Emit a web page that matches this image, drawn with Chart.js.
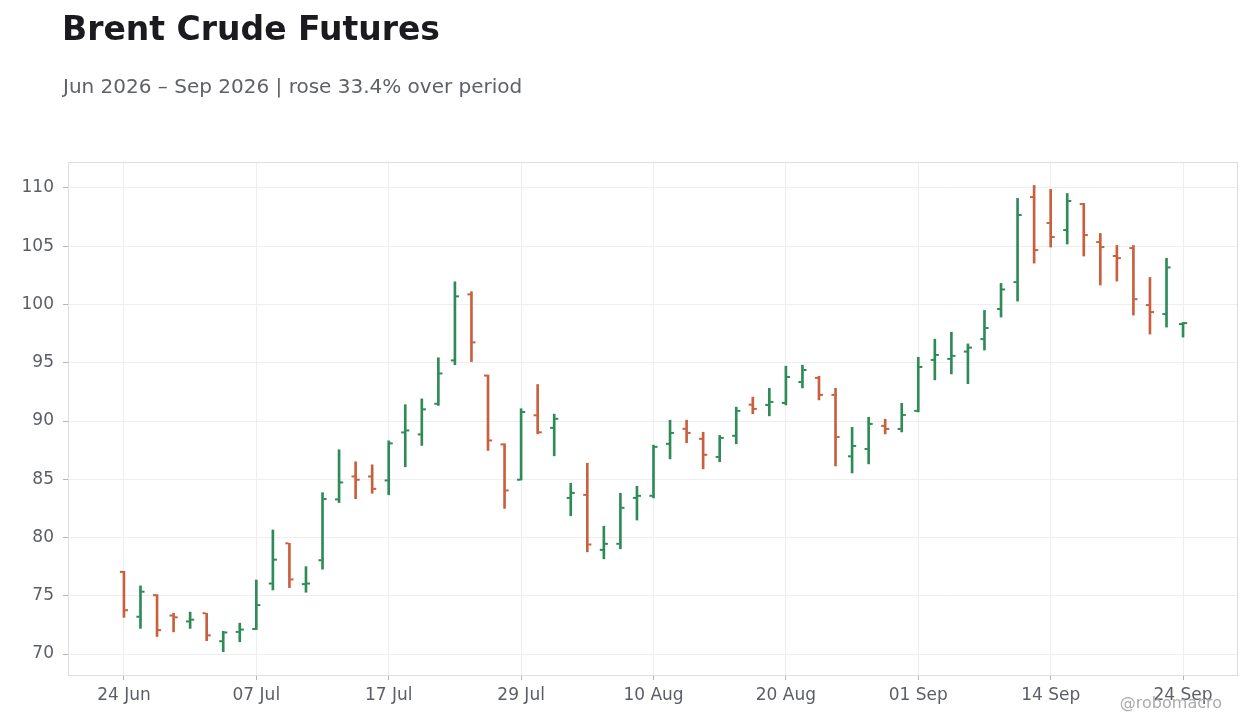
<!DOCTYPE html>
<html>
<head>
<meta charset="utf-8">
<script src="https://cdn.jsdelivr.net/npm/chart.js@4.4.1/dist/chart.umd.min.js"></script>
<style>
  body { margin: 0; background: #ffffff; font-family: "DejaVu Sans", sans-serif; }
  #wrap { position: relative; width: 1260px; height: 728px; overflow: hidden; }
  #title { position: absolute; left: 62px; top: 12px; font-size: 33px; line-height: 33px; font-weight: bold; color: #1b1b1f; white-space: nowrap; }
  #subtitle { position: absolute; left: 63px; top: 76px; font-size: 20px; line-height: 20px; color: #5f6168; white-space: nowrap; }
  #credit { position: absolute; right: 38px; top: 695px; font-size: 16px; line-height: 16px; color: #ababae; white-space: nowrap; }
  canvas { position: absolute; left: 0; top: 0; }
</style>
</head>
<body>
<div id="wrap">
  <canvas id="ohlc" width="1260" height="728"></canvas>
  <div id="title">Brent Crude Futures</div>
  <div id="subtitle">Jun 2026 – Sep 2026 | rose 33.4% over period</div>
  <div id="credit">@robomacro</div>
</div>
<script>
const dates = [
  '24 Jun', '25 Jun', '26 Jun', '29 Jun', '30 Jun',
  '01 Jul', '02 Jul', '06 Jul', '07 Jul', '08 Jul', '09 Jul', '10 Jul',
  '13 Jul', '14 Jul', '15 Jul', '16 Jul', '17 Jul', '20 Jul', '21 Jul', '22 Jul', '23 Jul', '24 Jul',
  '27 Jul', '28 Jul', '29 Jul', '30 Jul', '31 Jul',
  '03 Aug', '04 Aug', '05 Aug', '06 Aug', '07 Aug', '10 Aug', '11 Aug', '12 Aug', '13 Aug', '14 Aug',
  '17 Aug', '18 Aug', '19 Aug', '20 Aug', '21 Aug', '24 Aug', '25 Aug', '26 Aug', '27 Aug', '28 Aug', '31 Aug',
  '01 Sep', '02 Sep', '03 Sep', '04 Sep', '08 Sep', '09 Sep', '10 Sep', '11 Sep',
  '14 Sep', '15 Sep', '16 Sep', '17 Sep', '18 Sep', '21 Sep', '22 Sep', '23 Sep', '24 Sep'
];
const opens = [
  77.05, 73.2, 75.05, 73.3, 72.8, 73.5, 71.1, 71.9, 72.15, 76.05,
  79.5, 76.0, 78.05, 83.27, 85.24, 85.24, 84.9, 89.02, 88.85, 91.48,
  95.2, 100.87, 93.9, 87.99, 84.96, 90.49, 89.41, 83.4, 83.66, 78.94,
  79.46, 83.4, 83.58, 88.04, 89.33, 88.47, 86.92, 88.73, 91.4, 91.38,
  91.55, 93.35, 93.7, 92.24, 86.97, 87.6, 89.58, 89.32, 90.87, 95.24,
  95.33, 95.96, 97.03, 99.61, 101.92, 109.22, 106.99, 106.39, 108.62, 105.36,
  104.16, 104.84, 99.95, 99.18, 98.32
];
const highs = [
  77.1, 75.85, 75.1, 73.5, 73.6, 73.5, 71.95, 72.65, 76.35, 80.65,
  79.5, 77.5, 83.85, 87.53, 86.5, 86.24, 88.3, 91.4, 91.9, 95.43,
  101.95, 101.1, 93.95, 88.05, 91.05, 93.13, 90.59, 84.66, 86.38, 80.97,
  83.8, 84.4, 87.93, 90.07, 90.07, 89.04, 88.76, 91.19, 92.05, 92.81,
  94.7, 94.79, 93.84, 92.81, 89.46, 90.32, 90.15, 91.52, 95.47, 97.02,
  97.62, 96.62, 99.49, 101.81, 109.11, 110.22, 109.88, 109.53, 108.68, 106.1,
  105.07, 105.07, 102.32, 103.96, 98.46
];
const lows = [
  73.15, 72.2, 71.5, 71.9, 72.2, 71.15, 70.2, 71.05, 72.1, 75.5,
  75.7, 75.3, 77.28, 83.0, 83.33, 83.8, 83.67, 86.07, 87.9, 91.34,
  94.83, 95.1, 87.47, 82.5, 84.93, 88.9, 87.01, 81.86, 78.77, 78.17,
  79.03, 81.5, 83.4, 86.75, 88.13, 85.89, 86.5, 88.04, 90.62, 90.44,
  91.38, 92.84, 91.81, 86.14, 85.54, 86.32, 88.89, 89.06, 90.78, 93.53,
  94.04, 93.2, 96.09, 98.92, 100.29, 103.55, 104.93, 105.19, 104.16, 101.67,
  102.01, 99.09, 97.46, 98.06, 97.2
];
const closes = [
  73.76, 75.35, 72.05, 73.15, 72.95, 71.6, 71.85, 72.1, 74.2, 78.1,
  76.4, 76.05, 83.3, 84.73, 84.96, 84.18, 88.08, 89.19, 91.0, 94.08,
  100.7, 96.75, 88.33, 84.04, 90.77, 89.03, 90.19, 83.83, 79.4, 79.46,
  82.55, 83.58, 87.78, 88.98, 88.98, 87.1, 88.55, 90.87, 91.04, 91.64,
  93.78, 94.38, 92.24, 88.63, 87.86, 89.75, 89.32, 90.52, 94.64, 95.67,
  95.59, 96.3, 97.98, 101.29, 107.68, 104.67, 105.79, 108.88, 105.96, 104.93,
  103.98, 100.46, 99.35, 103.18, 98.4
];
const yTicks = [70, 75, 80, 85, 90, 95, 100, 105, 110];
const xTicks = [0, 8, 16, 24, 32, 40, 48, 56, 64];

const UP = '#2e8b57';
const DOWN = '#c9603d';
const TICK_SHIFT = 0.15;

const colors = closes.map((c, i) => c >= opens[i] ? UP : DOWN);

const frame = {
  id: 'frame',
  beforeDatasetsDraw(chart) {
    const a = chart.chartArea;
    const c = chart.ctx;
    c.save();
    c.strokeStyle = '#dddddd';
    c.lineWidth = 1;
    c.strokeRect(a.left + 0.5, a.top + 0.5, a.right - a.left - 1, a.bottom - a.top);
    c.restore();
  }
};

new Chart(document.getElementById('ohlc'), {
  type: 'bar',
  data: {
    datasets: [
      {
        type: 'bar',
        data: dates.map((d, i) => ({ x: i, y: [lows[i], highs[i]] })),
        backgroundColor: colors,
        barThickness: 2,
        borderWidth: 0,
        order: 2
      },
      {
        type: 'scatter',
        data: opens.map((v, i) => ({ x: i - TICK_SHIFT, y: v })),
        pointStyle: 'line',
        pointRadius: 1.6,
        pointBorderWidth: 2,
        pointBorderColor: colors,
        pointBackgroundColor: colors,
        order: 1
      },
      {
        type: 'scatter',
        data: closes.map((v, i) => ({ x: i + TICK_SHIFT, y: v })),
        pointStyle: 'line',
        pointRadius: 1.6,
        pointBorderWidth: 2,
        pointBorderColor: colors,
        pointBackgroundColor: colors,
        order: 1
      }
    ]
  },
  options: {
    responsive: false,
    animation: false,
    layout: { padding: { top: 162, right: 22, left: 0, bottom: 0 } },
    plugins: {
      legend: { display: false },
      tooltip: { enabled: false }
    },
    scales: {
      x: {
        type: 'linear',
        min: -3.38,
        max: 67.32,
        offset: false,
        afterBuildTicks: (s) => { s.ticks = xTicks.map(v => ({ value: v })); },
        afterFit: (s) => { s.height = 53; },
        grid: { offset: false, color: '#eeeeee', tickColor: '#b5b5b5', tickLength: 5 },
        border: { color: '#dddddd' },
        ticks: {
          autoSkip: false,
          maxRotation: 0,
          padding: 5,
          color: '#5b5e66',
          font: { family: 'DejaVu Sans', size: 17 },
          callback: (v) => dates[v]
        }
      },
      y: {
        type: 'linear',
        min: 68.2,
        max: 112.23,
        afterBuildTicks: (s) => { s.ticks = yTicks.map(v => ({ value: v })); },
        afterFit: (s) => { s.width = 68; },
        grid: { color: '#eeeeee', tickColor: '#b5b5b5', tickLength: 5 },
        border: { color: '#dddddd' },
        ticks: {
          padding: 9,
          color: '#5b5e66',
          font: { family: 'DejaVu Sans', size: 17 }
        }
      }
    }
  },
  plugins: [frame]
});
</script>
</body>
</html>
